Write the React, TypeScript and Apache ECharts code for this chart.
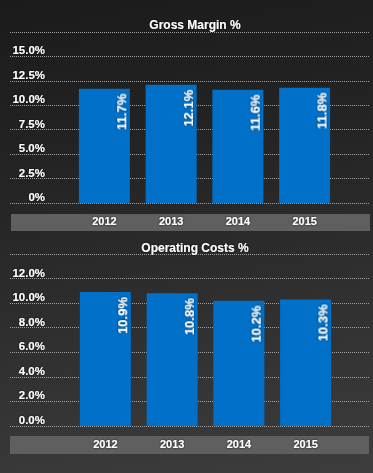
import React, { useEffect, useRef } from "react";
import * as echarts from "echarts";

const years = ["2012", "2013", "2014", "2015"];
const grossMargin = [11.7, 12.1, 11.6, 11.8];
const operatingCosts = [10.9, 10.8, 10.2, 10.3];
const grossTicks = ["0%", "2.5%", "5.0%", "7.5%", "10.0%", "12.5%", "15.0%", ""];
const opTicks = ["0.0%", "2.0%", "4.0%", "6.0%", "8.0%", "10.0%", "12.0%", ""];

const FONT = "'Liberation Sans', Arial, sans-serif";
const BAR = "#0070c9";
const GRID_LINE = "#a0a0a0";

export default function App() {
  const ref = useRef<HTMLDivElement>(null);
  useEffect(() => {
    if (!ref.current) return;
    const chart = echarts.init(ref.current, null, { renderer: "svg" });

    const shadow = { textShadowColor: "rgba(0,0,0,0.8)", textShadowBlur: 2 };

    const gridYAxis = (gridIndex: number, max: number, interval: number, ticks: string[]) => ({
      type: "value",
      gridIndex,
      min: 0,
      max,
      interval,
      axisLine: { show: false },
      axisTick: { show: false },
      splitLine: { show: true, lineStyle: { color: GRID_LINE, type: [1, 1], width: 1 } },
      axisLabel: {
        inside: true,
        margin: 35,
        align: "right",
        verticalAlign: "bottom",
        color: "#ffffff",
        fontFamily: FONT,
        fontWeight: "bold",
        fontSize: 11.5,
        ...shadow,
        formatter: (v: number) => ticks[Math.round(v / interval)] ?? "",
      },
    });
    const hiddenYAxis = (gridIndex: number, max: number, interval: number) => ({
      type: "value",
      gridIndex,
      min: 0,
      max,
      interval,
      show: false,
    });
    const catAxis = (gridIndex: number) => ({
      type: "category",
      gridIndex,
      data: years,
      axisLine: { show: false },
      axisTick: { show: false },
      axisLabel: {
        color: "#ffffff",
        fontFamily: FONT,
        fontWeight: "bold",
        fontSize: 11,
        margin: 12,
        ...shadow,
      },
    });
    const barLabel = {
      show: true,
      position: ["83%", 5],
      rotate: 90,
      align: "right",
      verticalAlign: "middle",
      color: "#ffffff",
      fontFamily: FONT,
      fontWeight: "bold",
      fontSize: 13,
      ...shadow,
      formatter: (p: any) => p.value.toFixed(1) + "%",
    };

    chart.setOption({
      animation: false,
      backgroundColor: "transparent",
      title: [
        {
          text: "Gross Margin %",
          left: 190,
          top: 14,
          textAlign: "center",
          textStyle: { color: "#fff", fontFamily: FONT, fontWeight: "bold", fontSize: 12, ...shadow },
        },
        {
          text: "Operating Costs %",
          left: 190,
          top: 237,
          textAlign: "center",
          textStyle: { color: "#fff", fontFamily: FONT, fontWeight: "bold", fontSize: 12, ...shadow },
        },
      ],
      graphic: [
        { type: "rect", z: -1, shape: { x: 11, y: 214, width: 359, height: 17 }, style: { fill: "#5f5f5f" } },
        { type: "rect", z: -1, shape: { x: 10, y: 436, width: 359, height: 18 }, style: { fill: "#5f5f5f" } },
      ],
      grid: [
        { left: 10, right: 3, top: 32, height: 171 },
        { left: 71, right: 35, top: 32, height: 171 },
        { left: 10, right: 4, top: 254, height: 172 },
        { left: 72, right: 34, top: 254, height: 172 },
      ],
      xAxis: [
        { type: "value", gridIndex: 0, show: false, min: 0, max: 1 },
        catAxis(1),
        { type: "value", gridIndex: 2, show: false, min: 0, max: 1 },
        catAxis(3),
      ],
      yAxis: [
        gridYAxis(0, 17.5, 2.5, grossTicks),
        hiddenYAxis(1, 17.5, 2.5),
        gridYAxis(2, 14, 2, opTicks),
        hiddenYAxis(3, 14, 2),
      ],
      series: [
        {
          type: "bar",
          xAxisIndex: 1,
          yAxisIndex: 1,
          data: grossMargin,
          barWidth: 51,
          itemStyle: { color: BAR },
          label: barLabel,
        },
        {
          type: "bar",
          xAxisIndex: 3,
          yAxisIndex: 3,
          data: operatingCosts,
          barWidth: 51,
          itemStyle: { color: BAR },
          label: barLabel,
        },
      ],
    });
    return () => chart.dispose();
  }, []);

  return (
    <div
      style={{
        position: "fixed",
        left: 0,
        top: 0,
        width: 373,
        height: 473,
        background: "linear-gradient(170deg, #1b1b1b 0%, #262626 40%, #3d3d3d 100%)",
      }}
    >
      <div ref={ref} style={{ width: 373, height: 473 }} />
    </div>
  );
}
